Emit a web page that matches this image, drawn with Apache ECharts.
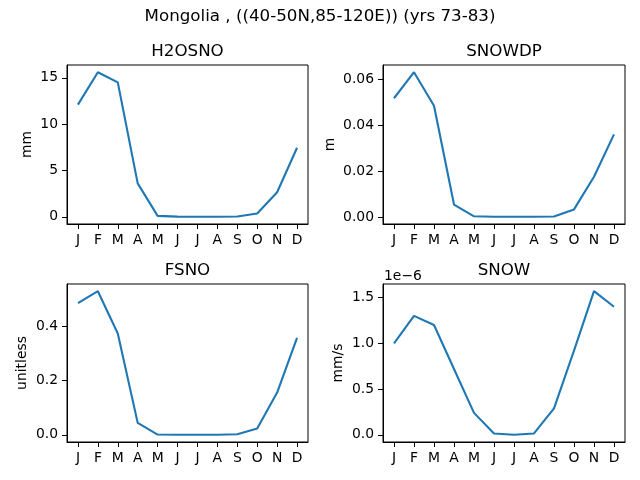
<!DOCTYPE html>
<html>
<head>
<meta charset="utf-8">
<script src="https://cdn.jsdelivr.net/npm/echarts@6/dist/echarts.min.js"></script>
<style>html,body{margin:0;padding:0;background:#fff}#c{width:640px;height:480px}</style>
</head>
<body>
<div id="c"></div>
<script>
const months = ['J','F','M','A','M','J','J','A','S','O','N','D'];
const h2osno = [12.1, 15.6, 14.5, 3.6, 0.1, 0.02, 0.0, 0.0, 0.03, 0.35, 2.65, 7.45];
const snowdp = [0.0517, 0.0630, 0.0484, 0.0055, 0.0004, 0.0002, 0.0002, 0.0002, 0.0003, 0.0034, 0.0176, 0.0360];
const fsno = [0.486, 0.530, 0.374, 0.044, 0.001, 0.0, 0.0, 0.0, 0.002, 0.023, 0.156, 0.358];
const snow = [1.00e-6, 1.30e-6, 1.20e-6, 0.72e-6, 0.24e-6, 0.015e-6, 0.0, 0.015e-6, 0.29e-6, 0.92e-6, 1.57e-6, 1.40e-6];
const h2osnoTicks = [0, 5, 10, 15];
const snowdpTicks = [0, 0.02, 0.04, 0.06];
const fsnoTicks = [0, 0.2, 0.4];
const snowTicks = [0, 0.5e-6, 1.0e-6, 1.5e-6];

const panels = [
  {title:'H2OSNO', unit:'mm', data:h2osno, ticks:h2osnoTicks, fmt:v=>v.toFixed(0), grid:{left:67, top:65, width:241, height:159}, nameGap:33},
  {title:'SNOWDP', unit:'m', data:snowdp, ticks:snowdpTicks, fmt:v=>v.toFixed(2), grid:{left:383, top:65, width:242, height:159}, nameGap:46},
  {title:'FSNO', unit:'unitless', data:fsno, ticks:fsnoTicks, fmt:v=>v.toFixed(1), grid:{left:67, top:284, width:241, height:158}, nameGap:38},
  {title:'SNOW', unit:'mm/s', data:snow, ticks:snowTicks, fmt:v=>(v*1e6).toFixed(1), grid:{left:383, top:284, width:242, height:158}, nameGap:38}
];

const FONT = 'DejaVu Sans';
const tickFont = 13.9;
const titleFont = 16.7;

const grids = [], xAxes = [], yAxes = [], series = [], graphics = [];
panels.forEach((p, i) => {
  grids.push(Object.assign({show:true, borderColor:'#000', borderWidth:1, backgroundColor:'#fff'}, p.grid));
  xAxes.push({
    type:'value', gridIndex:i, min:-0.55, max:11.55,
    axisLine:{show:true, onZero:false, lineStyle:{color:'#000', width:1}},
    axisTick:{show:true, length:5, lineStyle:{color:'#000', width:1}, customValues:months.map((m,k)=>k)},
    axisLabel:{show:true, margin:9, color:'#000', fontFamily:FONT, fontSize:tickFont,
      customValues:months.map((m,k)=>k), formatter:v=>months[Math.round(v)]},
    splitLine:{show:false}
  });
  const lo = Math.min(...p.data), hi = Math.max(...p.data), pad = 0.05*(hi-lo);
  yAxes.push({
    type:'value', gridIndex:i, min:lo-pad, max:hi+pad,
    name:p.unit, nameLocation:'middle', nameGap:p.nameGap, nameRotate:90,
    nameTextStyle:{color:'#000', fontFamily:FONT, fontSize:tickFont},
    axisLine:{show:true, onZero:false, lineStyle:{color:'#000', width:1}},
    axisTick:{show:true, length:5, lineStyle:{color:'#000', width:1}, customValues:p.ticks},
    axisLabel:{show:true, margin:9, color:'#000', fontFamily:FONT, fontSize:tickFont,
      customValues:p.ticks, formatter:p.fmt},
    splitLine:{show:false}
  });
  series.push({
    type:'line', xAxisIndex:i, yAxisIndex:i, data:p.data.map((v,k)=>[k,v]),
    showSymbol:false, symbol:'none', lineStyle:{color:'#1f77b4', width:2.1}, animation:false
  });
  graphics.push({
    type:'text', x:p.grid.left + p.grid.width/2, y:p.grid.top - 13,
    style:{text:p.title, fill:'#000', font:titleFont+'px "'+FONT+'"', textAlign:'center', textVerticalAlign:'middle'}
  });
});
graphics.push({
  type:'text', x:320, y:17,
  style:{text:'Mongolia , ((40-50N,85-120E)) (yrs 73-83)', fill:'#000', font:titleFont+'px "'+FONT+'"', textAlign:'center', textVerticalAlign:'middle'}
});
graphics.push({
  type:'text', x:384, y:276,
  style:{text:'1e\u22126', fill:'#000', font:tickFont+'px "'+FONT+'"', textAlign:'left', textVerticalAlign:'middle'}
});

const chart = echarts.init(document.getElementById('c'), null, {renderer:'canvas'});
chart.setOption({
  animation:false,
  backgroundColor:'#fff',
  grid:grids, xAxis:xAxes, yAxis:yAxes, series:series, graphic:graphics
});
</script>
</body>
</html>
